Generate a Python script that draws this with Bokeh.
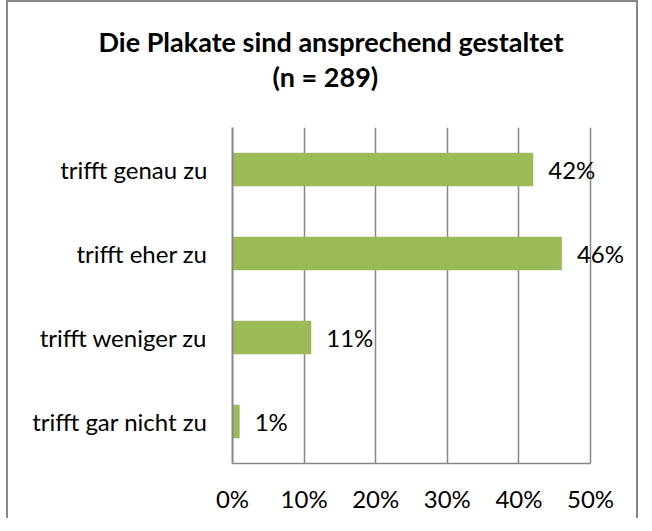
from bokeh.plotting import figure
from bokeh.models import ColumnDataSource, Title, LabelSet, NumeralTickFormatter, FixedTicker, Range1d, InlineStyleSheet
from bokeh.core.properties import value
from bokeh.embed import file_html
from bokeh.resources import INLINE

categories = ["trifft genau zu", "trifft eher zu", "trifft weniger zu", "trifft gar nicht zu"]
values = [0.42, 0.46, 0.11, 0.01]
value_labels = ["42%", "46%", "11%", "1%"]
x_ticks = [0, 0.1, 0.2, 0.3, 0.4, 0.5]
title_line1 = "Die Plakate sind ansprechend gestaltet"
title_line2 = "(n = 289)"

FONT = "Lato"
GRAY = "#868686"

source = ColumnDataSource(dict(cat=categories, val=values, lab=value_labels))

p = figure(y_range=list(reversed(categories)), x_range=Range1d(0, 0.56),
           width=632, height=518, output_backend="svg", toolbar_location=None,
           min_border_left=224, min_border_right=7, min_border_top=0, min_border_bottom=57,
           margin=(0, 0, 0, 6))
p.stylesheets = [InlineStyleSheet(css=":host { border-left: 2px solid #888888; border-top: 2px solid #888888; border-right: 2px solid #888888; }")]

p.hbar(y="cat", right="val", left=0, height=0.4, source=source,
       fill_color="#9BBB59", line_color=None)

labels = LabelSet(x="val", y="cat", text="lab", source=source, x_offset=15,
                  text_baseline="middle", text_font=value(FONT), text_font_size="24px",
                  text_color="black")
p.add_layout(labels)

# spacer nearest the frame, then the two title lines, then a top spacer
sp_bottom = Title(text=" ", text_font_size="1px", standoff=32)
t2 = Title(text=title_line2, align="left", offset=40, text_font=FONT, text_font_size="27px",
           text_font_style="bold", text_color="black", standoff=0)
t1 = Title(text=title_line1, align="left", offset=-134, text_font=FONT, text_font_size="27px",
           text_font_style="bold", text_color="black", standoff=0)
sp_top = Title(text=" ", text_font_size="1px", standoff=17)
p.add_layout(sp_bottom, "above")
p.add_layout(t2, "above")
p.add_layout(t1, "above")
p.add_layout(sp_top, "above")

p.xaxis.ticker = FixedTicker(ticks=x_ticks)
p.xaxis.formatter = NumeralTickFormatter(format="0%")
p.xaxis.bounds = (0, 0.5)
p.xaxis.major_tick_line_color = None
p.xaxis.minor_tick_line_color = None
p.xaxis.major_tick_out = 0
p.xaxis.major_tick_in = 0
p.xaxis.major_label_standoff = 20
p.xaxis.axis_line_color = GRAY
p.xaxis.axis_line_width = 1.6
p.xaxis.major_label_text_font = FONT
p.xaxis.major_label_text_font_size = "24px"
p.xaxis.major_label_text_color = "black"

p.yaxis.major_tick_line_color = None
p.yaxis.minor_tick_line_color = None
p.yaxis.major_tick_out = 0
p.yaxis.major_tick_in = 0
p.yaxis.major_label_standoff = 25
p.yaxis.axis_line_color = GRAY
p.yaxis.axis_line_width = 2
p.yaxis.major_label_text_font = FONT
p.yaxis.major_label_text_font_size = "24px"
p.yaxis.major_label_text_color = "black"

p.xgrid.ticker = FixedTicker(ticks=x_ticks)
p.xgrid.grid_line_color = GRAY
p.xgrid.grid_line_width = 1.5
p.ygrid.grid_line_color = None
p.outline_line_color = None

open("out.html", "w").write(file_html(p, INLINE))
